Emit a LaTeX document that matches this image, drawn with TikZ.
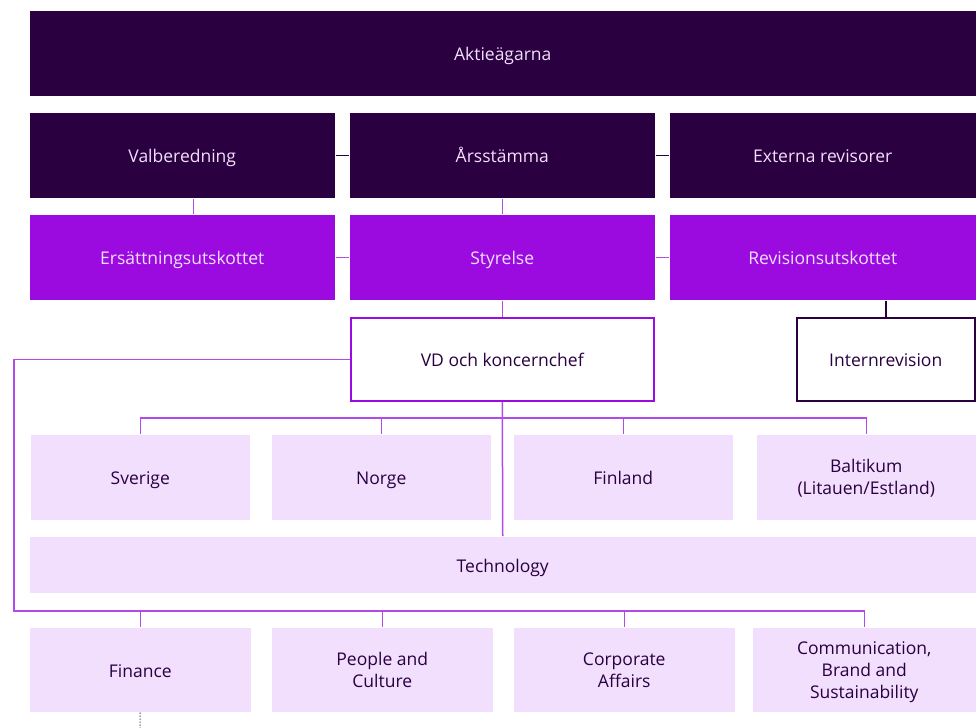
\documentclass[tikz,border=0pt]{standalone}
\usepackage{fontspec}
\setmainfont{Open Sans}
\definecolor{ink}{HTML}{2A0040}
\definecolor{violet}{HTML}{9B0BE0}
\definecolor{lilac}{HTML}{F1DFFD}
\definecolor{linelilac}{HTML}{B24AEA}
\begin{document}
\begin{tikzpicture}[x=1pt, y=-1pt, line width=1.5pt,
    base/.style={anchor=north west, inner sep=0pt, align=center, font=\fontsize{17.5}{22}\selectfont},
    box/.style={base, text height=16pt, text depth=1pt},
    darkbox/.style={box, fill=ink, text=lilac},
    boardbox/.style={box, fill=violet, text=lilac},
    openbox/.style={box, fill=white, draw=violet, text=ink},
    unitbox/.style={box, fill=lilac, text=ink},
    unitstack/.style={base, fill=lilac, text=ink, text depth=-1.5pt},
    darkline/.style={draw=ink},
    link/.style={draw=linelilac}]
    \useasboundingbox (0,0) rectangle (977,728);
    % Owners and general meeting
    \node[darkbox, minimum width=946pt, minimum height=85pt] (owners) at (29,10) {Aktieägarna};
    \node[darkbox, minimum width=305pt, minimum height=85pt] (nomination) at (29,112) {Valberedning};
    \node[darkbox, minimum width=305pt, minimum height=85pt] (agm) at (349,112) {Årsstämma};
    \node[darkbox, minimum width=306pt, minimum height=85pt] (auditors) at (669,112) {Externa revisorer};
    % Board and committees
    \node[boardbox, minimum width=305pt, minimum height=85pt] (remuneration) at (29,214) {Ersättningsutskottet};
    \node[boardbox, minimum width=305pt, minimum height=85pt] (board) at (349,214) {Styrelse};
    \node[boardbox, minimum width=306pt, minimum height=85pt] (audit) at (669,214) {Revisionsutskottet};
    % Management
    \node[openbox, minimum width=303pt, minimum height=83pt] (ceo) at (350,317) {VD och koncernchef};
    \node[openbox, draw=ink, minimum width=178pt, minimum height=83pt] (internal) at (796,317) {Internrevision};
    % Countries
    \node[unitbox, minimum width=219pt, minimum height=85pt] (sweden) at (30,434) {Sverige};
    \node[unitbox, minimum width=219pt, minimum height=85pt] (norway) at (271,434) {Norge};
    \node[unitbox, minimum width=219pt, minimum height=85pt] (finland) at (513,434) {Finland};
    \node[unitstack, minimum width=219pt, minimum height=85pt] (baltics) at (756,434) {Baltikum\\(Litauen/Estland)};
    \node[unitbox, minimum width=946pt, minimum height=56pt] (tech) at (29,536) {Technology};
    % Group functions
    \node[unitbox, minimum width=221pt, minimum height=84pt] (finance) at (29,627) {Finance};
    \node[unitstack, minimum width=221pt, minimum height=84pt] (people) at (271,627) {People and\\Culture};
    \node[unitstack, minimum width=221pt, minimum height=84pt] (corporate) at (513,627) {Corporate\\Affairs};
    \node[unitstack, minimum width=223pt, minimum height=84pt] (comms) at (752,627) {Communication,\\Brand and\\Sustainability};
    \coordinate (countrybus) at (0,418);
    \coordinate (functionbus) at (14,611);
    \coordinate (financeend) at (140,728);
    % Connectors
    \draw[darkline] (nomination.east) -- (agm.west);
    \draw[darkline] (agm.east) -- (auditors.west);
    \draw[link] ([xshift=11pt]nomination.south) -- ([xshift=11pt]remuneration.north);
    \draw[link] (agm.south) -- (board.north);
    \draw[link] (remuneration.east) -- (board.west);
    \draw[link] (board.east) -- (audit.west);
    \draw[link] (board.south) -- (ceo.north);
    \draw[darkline] (internal.north) -- (internal.north |- audit.south);
    \draw[link] (ceo.south) -- (tech.north);
    \draw[link] (sweden.north) -- (sweden.north |- countrybus) -- (baltics.north |- countrybus) -- (baltics.north);
    \draw[link] (norway.north) -- (norway.north |- countrybus);
    \draw[link] (finland.north) -- (finland.north |- countrybus);
    \draw[link] (ceo.west) -| (functionbus) -| (comms.north);
    \draw[link] (finance.north) -- (finance.north |- functionbus);
    \draw[link] (people.north) -- (people.north |- functionbus);
    \draw[link] (corporate.north) -- (corporate.north |- functionbus);
    \draw[ink, line width=1pt, dotted] (finance.south) -- (financeend);
\end{tikzpicture}
\end{document}
